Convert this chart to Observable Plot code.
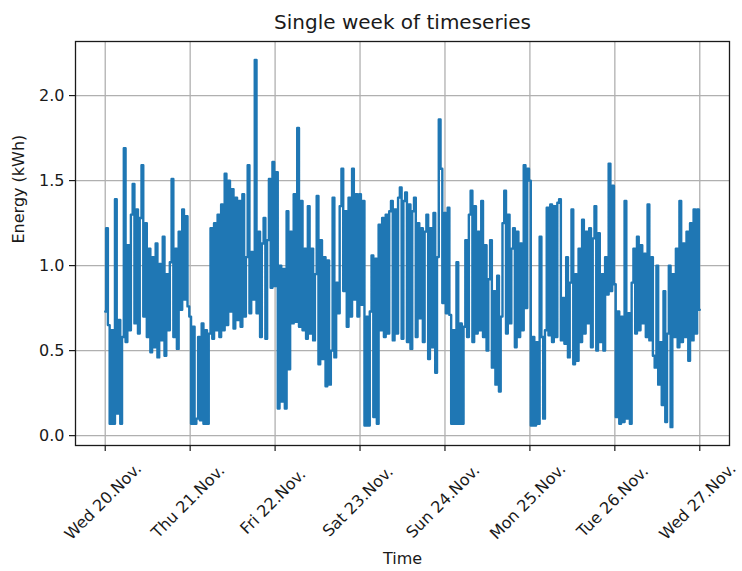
<!DOCTYPE html>
<html>
<head>
<meta charset="utf-8">
<script src="https://cdn.jsdelivr.net/npm/d3@7"></script>
<script src="https://cdn.jsdelivr.net/npm/@observablehq/plot@0.6"></script>
<style>
  html, body { margin: 0; padding: 0; background: #fff; }
  svg { display: block; }
</style>
</head>
<body>
<div id="chart"></div>
<script>
// Half-hourly energy readings (kWh), one array per day, starting Wed 20 Nov 00:00
const wed20 = [0.73,1.22,0.65,0.07,0.62,0.07,1.39,0.13,0.68,0.07,0.58,1.69,0.55,1.12,0.62,1.30,1.48,0.66,1.33,0.60,1.28,1.59,0.70,1.25,0.58,1.10,0.49,1.05,0.52,1.13,0.46,1.01,0.56,1.17,0.47,0.95,0.62,1.02,1.51,0.58,1.10,0.51,1.20,0.74,1.33,0.80,1.29,0.76];
const thu21 = [0.70,0.07,0.64,0.07,0.10,0.58,0.09,0.66,0.07,0.62,0.07,0.60,1.22,0.57,1.25,0.62,1.30,0.58,1.36,0.62,1.54,0.65,1.50,0.73,1.45,0.63,1.40,0.68,1.38,0.64,1.42,0.70,1.05,1.59,0.72,1.08,0.80,2.21,0.72,1.20,0.58,1.13,1.28,0.57,1.15,1.51,0.87,1.61];
const fri22 = [0.88,1.55,0.16,1.00,0.20,0.98,0.16,1.32,0.39,1.20,0.66,1.42,0.67,1.81,0.64,1.38,0.62,1.10,0.57,1.35,0.60,1.10,0.56,0.95,1.41,0.42,1.15,0.45,1.05,0.29,1.03,0.30,0.50,1.40,0.46,0.90,0.72,1.35,1.57,0.85,1.32,0.64,1.40,0.70,1.57,0.80,1.42,0.70];
const sat23 = [1.42,0.77,1.38,0.06,0.70,0.06,0.73,1.06,0.11,1.04,0.07,1.24,0.62,1.28,0.58,1.30,0.60,1.32,1.38,0.56,1.33,0.60,1.40,1.46,0.57,1.38,1.43,0.55,1.36,0.51,1.32,1.40,0.58,1.25,0.69,1.22,0.55,1.20,1.30,0.45,1.22,0.52,1.31,0.37,1.05,1.86,1.57,0.78];
const sun24 = [1.31,0.72,1.34,0.71,0.07,0.62,0.07,1.02,0.07,0.66,0.07,0.64,1.15,0.58,1.30,1.44,0.55,1.35,0.60,1.20,0.62,1.38,0.58,1.12,0.50,0.92,1.15,0.40,0.85,0.30,0.94,0.26,0.70,1.25,1.44,0.60,1.30,0.66,1.10,1.22,0.52,1.20,0.58,1.13,0.62,1.59,0.75,1.57];
const mon25 = [1.50,0.06,0.58,0.06,0.55,0.07,1.17,0.58,0.10,0.62,1.34,0.59,1.36,0.55,1.35,0.58,1.37,1.39,0.56,0.81,0.54,1.05,0.46,0.90,1.33,0.42,0.95,0.44,1.10,0.55,1.27,0.60,1.20,0.66,1.22,0.52,1.16,1.35,0.50,1.19,0.55,0.95,0.50,1.05,0.83,1.60,0.85,1.47];
const tue26 = [0.89,0.11,0.73,0.07,0.70,0.08,1.38,0.10,0.72,0.07,0.90,1.10,0.60,1.17,0.62,1.12,0.66,1.07,0.58,1.36,0.56,1.05,0.47,0.40,1.00,0.30,0.55,0.18,0.85,0.08,0.60,1.00,0.05,0.95,0.58,1.10,0.52,1.38,0.55,1.13,0.58,1.20,0.44,1.25,0.56,1.33,0.60,1.33,0.74];

const dayLabels = ["Wed 20.Nov.","Thu 21.Nov.","Fri 22.Nov.","Sat 23.Nov.","Sun 24.Nov.","Mon 25.Nov.","Tue 26.Nov.","Wed 27.Nov."];
const yTicks = [0.0, 0.5, 1.0, 1.5, 2.0];
const titleText = "Single week of timeseries";
const xLabel = "Time";
const yLabel = "Energy (kWh)";

const start = Date.UTC(2024, 10, 20);
const DAY = 86400000;
const STEP = DAY / 48;
const values = [...wed20, ...thu21, ...fri22, ...sat23, ...sun24, ...mon25, ...tue26];
const data = values.map((v, i) => ({ t: new Date(start + i * STEP), v }));
const dayTicks = dayLabels.map((_, i) => new Date(start + i * DAY));

const ink = "#1a1a1a";
const font = "DejaVu Sans";

const chart = Plot.plot({
  width: 742,
  height: 571,
  marginLeft: 75,
  marginRight: 13,
  marginTop: 41,
  marginBottom: 126,
  style: { fontFamily: font, fontSize: "16px", color: ink, background: "#fff" },
  x: { type: "utc", domain: [new Date(start - 0.35 * DAY), new Date(start + 7.35 * DAY)] },
  y: { domain: [-0.058, 2.318] },
  marks: [
    Plot.gridX(dayTicks, { stroke: "#b0b0b0", strokeOpacity: 1, strokeWidth: 1.3 }),
    Plot.gridY(yTicks, { stroke: "#b0b0b0", strokeOpacity: 1, strokeWidth: 1.3 }),
    Plot.line(data, { x: "t", y: "v", stroke: "#1f77b4", strokeWidth: 2.4, curve: "step" }),
    Plot.frame({ stroke: ink, strokeWidth: 1.3 }),
    Plot.axisX(dayTicks, { tickSize: 6, strokeWidth: 1.2, tickFormat: () => "", label: null }),
    Plot.text(dayTicks, { x: d => d, text: (d, i) => dayLabels[i], frameAnchor: "bottom", dy: 56, dx: -2, rotate: -45, textAnchor: "middle", lineAnchor: "middle", fontSize: 16, fill: ink }),
    Plot.axisY(yTicks, { tickSize: 6, tickPadding: 5, strokeWidth: 1.2, tickFormat: d3.format(".1f"), fontSize: 16, label: null }),
    Plot.text([titleText], { frameAnchor: "top", dy: -19, lineAnchor: "middle", fontSize: 20, fill: ink }),
    Plot.text([xLabel], { frameAnchor: "bottom", dy: 113, lineAnchor: "middle", fontSize: 16, fill: ink }),
    Plot.text([yLabel], { frameAnchor: "left", dx: -57, rotate: -90, lineAnchor: "middle", fontSize: 16, fill: ink })
  ]
});
document.getElementById("chart").appendChild(chart);
</script>
</body>
</html>
